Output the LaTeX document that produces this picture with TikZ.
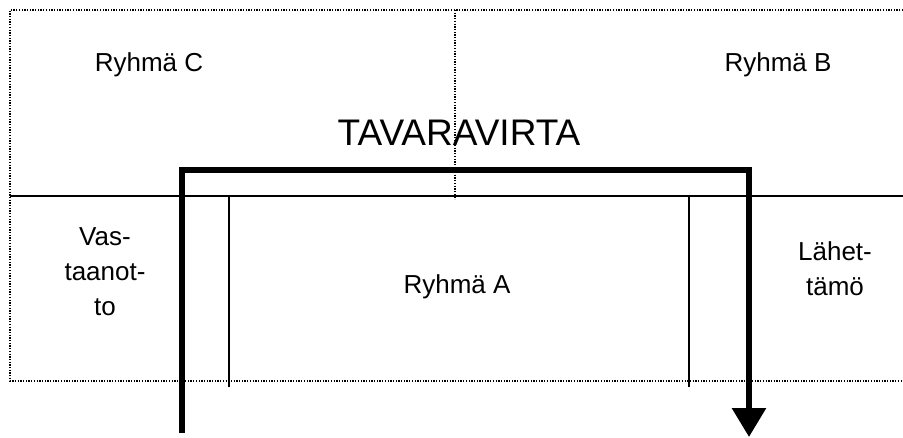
\documentclass[tikz,border=0pt]{standalone}
\usepackage{fontspec}
\setmainfont{Liberation Sans}
\usetikzlibrary{arrows.meta}
\begin{document}
\begin{tikzpicture}[x=1pt,y=-1pt,
  dotline/.style={line width=1.3pt,dash pattern=on 1.3pt off 1.4pt},
  wall/.style={line width=1.3pt},
  flow/.style={line width=6pt,line join=miter,line cap=butt,
    -{Triangle[width=33pt,length=29pt]}},
  lbl/.style={anchor=base,inner sep=0pt,align=center,
    font=\fontsize{26}{35}\selectfont},
  title/.style={anchor=base,inner sep=0pt,font=\fontsize{37}{44}\selectfont}]
\useasboundingbox (0,0) rectangle (903,437);
% hall outline and partitions
\draw[dotline] (903,10) -- (10,10) -- (10,381) -- (903,381);
\draw[dotline] (455,10) -- (455,199);
\draw[wall] (10,196) -- (903,196);
\draw[wall] (229,196) -- (229,387);
\draw[wall] (689,196) -- (689,387);
% labels (base anchor of a multi-line label sits on its last line)
\node[lbl] (c) at (149,71) {Ryhmä C};
\node[lbl] (b) at (778,71) {Ryhmä B};
\node[title] (t) at (459,145) {TAVARAVIRTA};
\node[lbl] (a) at (457,293) {Ryhmä A};
\node[lbl] (v) at (105,315) {Vas-\\taanot-\\to};
\node[lbl] (l) at (835,295) {Lähet-\\tämö};
% goods flow
\coordinate (in) at (182,433);
\coordinate (out) at (749,437);
\draw[flow] (in) |- (749,170) -- (out);
\end{tikzpicture}
\end{document}
